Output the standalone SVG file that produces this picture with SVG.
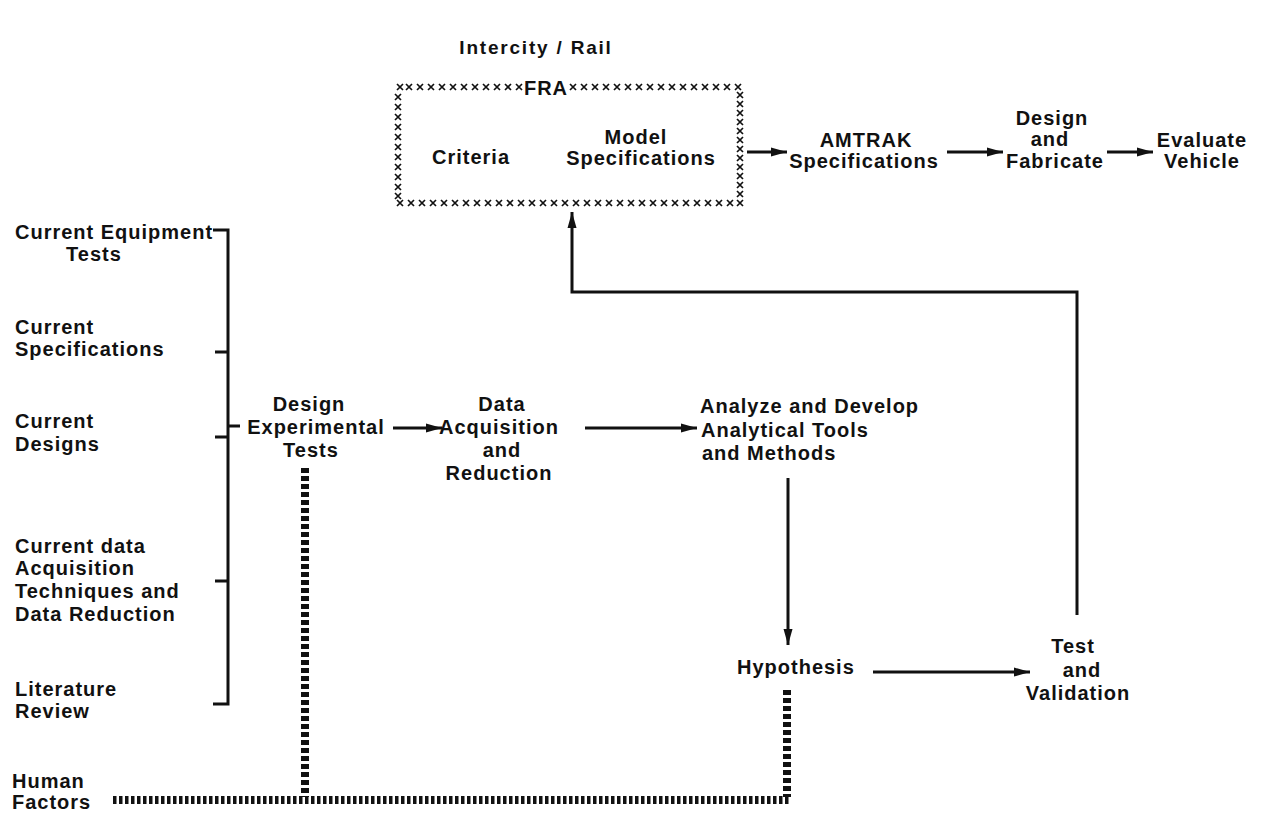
<svg xmlns="http://www.w3.org/2000/svg" width="1281" height="815" viewBox="0 0 1281 815">
<style>
.t{font-family:"Liberation Sans",Arial,sans-serif;font-size:20px;font-weight:bold;fill:#111;letter-spacing:1px}
.m{text-anchor:middle}
.ln{fill:none;stroke:#111;stroke-width:3}
.ar{marker-end:url(#ah)}
.dv{fill:none;stroke:#111;stroke-width:8;stroke-dasharray:5 3}
.dh{fill:none;stroke:#111;stroke-width:8;stroke-dasharray:3.5 2.5}
</style>
<defs>
<marker id="ah" markerUnits="userSpaceOnUse" markerWidth="16" markerHeight="10" refX="16" refY="5" orient="auto" overflow="visible">
<path d="M0,0.5 L16,5 L0,9.5 z" fill="#111"/>
</marker>
<marker id="x" markerUnits="userSpaceOnUse" markerWidth="8" markerHeight="8" refX="4" refY="4" overflow="visible">
<path d="M1,1 L7,7 M7,1 L1,7" fill="none" stroke="#111" stroke-width="1.7"/>
</marker>
</defs>
<rect width="1281" height="815" fill="#fff"/>

<g id="title">
<text class="t m" x="536" y="54" style="font-size:19px;letter-spacing:1.8px">Intercity / Rail</text>
</g>

<g id="fra">
<polyline fill="none" stroke="none" marker-start="url(#x)" marker-mid="url(#x)" marker-end="url(#x)" points="519,87 508,87 497,87 486,87 475,87 464,87 453,87 442,87 431,87 420,87 409,87 400,87 398,97 398,107 398,117 398,127 398,137 398,147 398,157 398,167 398,177 398,187 398,196 400,203 411,203 422,203 433,203 444,203 455,203 466,203 477,203 488,203 499,203 510,203 521,203 532,203 543,203 554,203 565,203 576,203 587,203 598,203 609,203 620,203 631,203 642,203 653,203 664,203 675,203 686,203 697,203 708,203 719,203 730,203 740,203 740,194 740,185 740,176 740,167 740,158 740,149 740,140 740,131 740,122 740,113 740,104 740,95 738,87 727,87 716,87 705,87 694,87 683,87 672,87 661,87 650,87 639,87 628,87 617,87 606,87 595,87 584,87 573,87"/>
<text class="t m" x="546" y="95">FRA</text>
<text class="t m" x="471" y="164">Criteria</text>
<text class="t m" x="636" y="144">Model</text>
<text class="t m" x="641" y="165">Specifications</text>
</g>

<g id="amtrak">
<text class="t m" x="866" y="147">AMTRAK</text>
<text class="t m" x="864" y="168">Specifications</text>
</g>

<g id="design-fabricate">
<text class="t m" x="1052" y="125">Design</text>
<text class="t m" x="1050" y="146">and</text>
<text class="t m" x="1055" y="168">Fabricate</text>
</g>

<g id="evaluate">
<text class="t m" x="1202" y="147">Evaluate</text>
<text class="t m" x="1202" y="168">Vehicle</text>
</g>

<g id="current-equipment">
<text class="t" x="15" y="239">Current Equipment</text>
<text class="t m" x="94" y="261">Tests</text>
</g>
<g id="current-specifications">
<text class="t" x="15" y="334">Current</text>
<text class="t" x="15" y="356">Specifications</text>
</g>
<g id="current-designs">
<text class="t" x="15" y="428">Current</text>
<text class="t" x="15" y="451">Designs</text>
</g>
<g id="current-data">
<text class="t" x="15" y="553">Current data</text>
<text class="t" x="15" y="575">Acquisition</text>
<text class="t" x="15" y="598">Techniques and</text>
<text class="t" x="15" y="621">Data Reduction</text>
</g>
<g id="literature">
<text class="t" x="15" y="696">Literature</text>
<text class="t" x="15" y="718">Review</text>
</g>
<g id="human-factors">
<text class="t" x="12" y="788">Human</text>
<text class="t" x="12" y="809">Factors</text>
</g>

<g id="design-experimental">
<text class="t m" x="309" y="411">Design</text>
<text class="t m" x="316" y="434">Experimental</text>
<text class="t m" x="311" y="457">Tests</text>
</g>

<g id="data-acquisition">
<text class="t m" x="502" y="411">Data</text>
<text class="t m" x="499" y="434">Acquisition</text>
<text class="t m" x="502" y="457">and</text>
<text class="t m" x="499" y="480">Reduction</text>
</g>

<g id="analyze">
<text class="t" x="700" y="413">Analyze and Develop</text>
<text class="t" x="701" y="437">Analytical Tools</text>
<text class="t" x="702" y="460">and Methods</text>
</g>

<g id="hypothesis">
<text class="t" x="737" y="674">Hypothesis</text>
</g>

<g id="test-validation">
<text class="t m" x="1073" y="653">Test</text>
<text class="t m" x="1082" y="677">and</text>
<text class="t m" x="1078" y="700">Validation</text>
</g>

<g id="connectors">
<path class="ln" d="M213,230 H228 V704 H213"/>
<path class="ln" d="M215,352 H228 M215,437 H228 M215,581 H228 M228,426 H240"/>
<path class="ln ar" d="M747,152 H787"/>
<path class="ln ar" d="M947,152 H1003"/>
<path class="ln ar" d="M1107,152 H1153"/>
<path class="ln ar" d="M393,428 H442"/>
<path class="ln ar" d="M585,428 H697"/>
<path class="ln ar" d="M788,478 V645"/>
<path class="ln ar" d="M873,672 H1030"/>
<path class="ln ar" d="M1077,615 V292 H572 V212"/>
<path class="dv" d="M305,468 V797"/>
<path class="dv" d="M787,690 V797"/>
<path class="dh" d="M113,800 H791"/>
</g>
</svg>
